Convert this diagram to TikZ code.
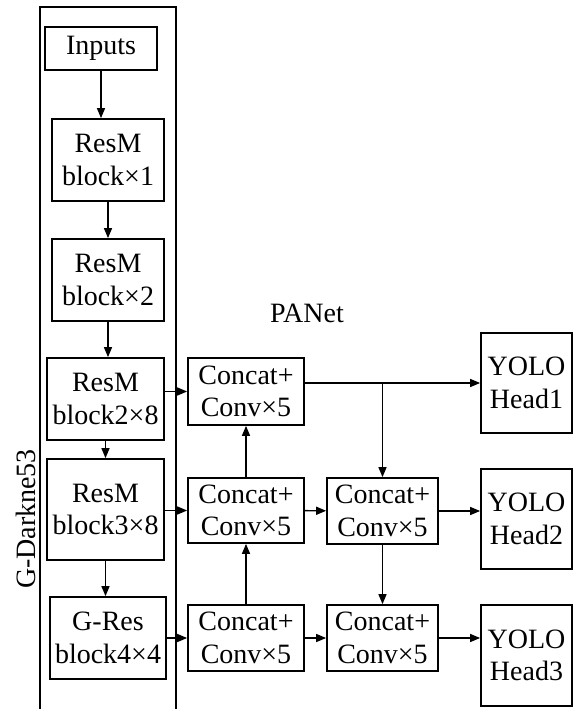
\documentclass[tikz,border=0pt]{standalone}
\usepackage{fontspec}
\setmainfont{Liberation Serif}
\usetikzlibrary{arrows.meta}

\begin{document}
\begin{tikzpicture}[x=0.75pt, y=-0.75pt,
    blk/.style={draw, line width=1.3pt, align=center, inner sep=0pt,
      font=\fontsize{21}{24.5}\selectfont},
    arr/.style={line width=1.1pt, -{Triangle[length=7.5pt, width=6pt]}}]
  \useasboundingbox (0,0) rectangle (580,709);
  \draw[line width=1.3pt] (40,720) -- (40,7) -- (176,7) -- (176,720);
  \node[rotate=90, font=\fontsize{21}{24.5}\selectfont] (gd) at (26,519) {G-Darkne53};
  \node[font=\fontsize{21}{24.5}\selectfont] (pan) at (307,313) {PANet};
  \node[blk, minimum width=84pt, minimum height=32.25pt] (inp) at (101,48.5) {Inputs};
  \node[blk, minimum width=84pt, minimum height=61.5pt] (r1) at (108,160) {ResM\\block×1};
  \node[blk, minimum width=84pt, minimum height=61.5pt] (r2) at (108,280) {ResM\\block×2};
  \node[blk, minimum width=87.75pt, minimum height=61.5pt] (r3) at (105.5,399) {ResM\\block2×8};
  \node[blk, minimum width=87.75pt, minimum height=75.75pt] (r4) at (105.5,509.5) {ResM\\block3×8};
  \node[blk, minimum width=87pt, minimum height=61.5pt] (r5) at (108,638) {G-Res\\block4×4};
  \node[blk, minimum width=87pt, minimum height=50.25pt] (c11) at (246,391.5) {Concat+\\Conv×5};
  \node[blk, minimum width=87pt, minimum height=48.75pt] (c21) at (246,510.5) {Concat+\\Conv×5};
  \node[blk, minimum width=87pt, minimum height=49.5pt] (c31) at (246,638) {Concat+\\Conv×5};
  \node[blk, minimum width=83.25pt, minimum height=49.5pt] (c22) at (382.5,511) {Concat+\\Conv×5};
  \node[blk, minimum width=83.25pt, minimum height=49.5pt] (c32) at (382.5,638) {Concat+\\Conv×5};
  \node[blk, minimum width=68.25pt, minimum height=75pt] (h1) at (526.5,383) {YOLO\\Head1};
  \node[blk, minimum width=68.25pt, minimum height=75pt] (h2) at (526.5,519) {YOLO\\Head2};
  \node[blk, minimum width=68.25pt, minimum height=75.75pt] (h3) at (526.5,655.5) {YOLO\\Head3};
  \coordinate (br) at (c22.north |- h1.west);
  \draw[arr] (inp.south) -- (inp.south |- r1.north);
  \draw[arr] (r1) -- (r2);
  \draw[arr] (r2.south) -- (r2.south |- r3.north);
  \draw[arr] (r3) -- (r4);
  \draw[arr] (r4.south) -- (r4.south |- r5.north);
  \draw[arr] (c11.west -| r3.east) -- (c11.west);
  \draw[arr] (c21.west -| r4.east) -- (c21.west);
  \draw[arr] (r5) -- (c31);
  \draw[arr] (c21) -- (c11);
  \draw[arr] (c31) -- (c21);
  \draw[arr] (c11.east |- h1.west) -- (h1.west);
  \draw[arr] (br) -- (c22.north);
  \draw[arr] (c21) -- (c22);
  \draw[arr] (c22.east) -- (c22.east -| h2.west);
  \draw[arr] (c31) -- (c32);
  \draw[arr] (c32.east) -- (c32.east -| h3.west);
  \draw[arr] (c22) -- (c32);
\end{tikzpicture}
\end{document}
